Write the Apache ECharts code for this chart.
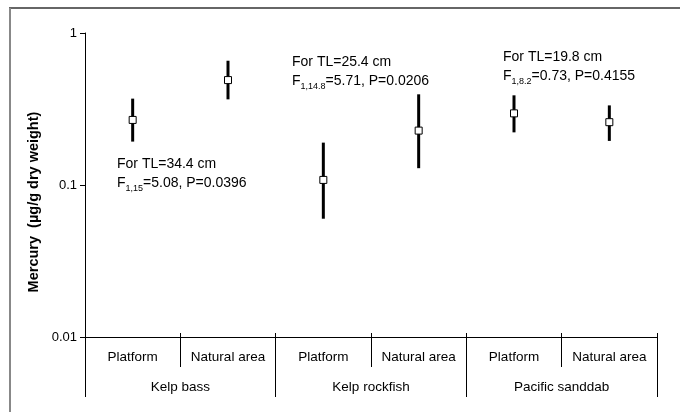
<!DOCTYPE html>
<html>
<head>
<meta charset="utf-8">
<script src="https://cdn.jsdelivr.net/npm/echarts@6/dist/echarts.min.js"></script>
<style>
  html, body { margin: 0; padding: 0; background: #fff; }
  #chart { width: 680px; height: 412px; }
</style>
</head>
<body>
<div id="chart"></div>
<script>
// sites within each species, and the species groups
var sites = ['Platform', 'Natural area', 'Platform', 'Natural area', 'Platform', 'Natural area'];
var species = ['Kelp bass', 'Kelp rockfish', 'Pacific sanddab'];

// adjusted mean mercury (ug/g dry weight) with the lower and upper bar ends
var means = [0.268, 0.49, 0.108, 0.228, 0.296, 0.259];
var lows = [0.193, 0.366, 0.060, 0.129, 0.222, 0.195];
var highs = [0.37, 0.657, 0.19, 0.395, 0.389, 0.334];

// ANCOVA notes per species
var noteTL = ['For TL=34.4 cm', 'For TL=25.4 cm', 'For TL=19.8 cm'];
var noteDf = ['1,15', '1,14.8', '1,8.2'];
var noteStat = ['=5.08, P=0.0396', '=5.71, P=0.0206', '=0.73, P=0.4155'];

var font = 'Arial, "Liberation Sans", sans-serif';
var chart = echarts.init(document.getElementById('chart'));

// where each note sits on the page
var notePos = [[117, 164], [292, 62], [503, 57]];

function buildNotes() {
    var out = [];
    notePos.forEach(function (p, i) {
        out.push({
            type: 'text',
            style: {
                x: p[0], y: p[1], text: noteTL[i],
                font: '14px ' + font, fill: '#000',
                verticalAlign: 'middle'
            }
        });
        out.push({
            type: 'text',
            style: {
                x: p[0], y: p[1] + 17,
                text: '{n|F}{s|' + noteDf[i] + '}{n|' + noteStat[i] + '}',
                verticalAlign: 'middle',
                rich: {
                    n: { fontSize: 14, fontFamily: font, color: '#000', lineHeight: 18, verticalAlign: 'bottom' },
                    s: { fontSize: 9, fontFamily: font, color: '#000', lineHeight: 14, verticalAlign: 'bottom', padding: [0, 0, -3, 0] }
                }
            }
        });
    });
    return out;
}

var graphics = [
    { type: 'line', shape: { x1: 9, y1: 8, x2: 680, y2: 8 }, style: { stroke: '#333', lineWidth: 1.5 } },
    { type: 'line', shape: { x1: 10, y1: 8, x2: 10, y2: 412 }, style: { stroke: '#888', lineWidth: 2 } },
    {
        type: 'text', x: 34, y: 202, rotation: Math.PI / 2,
        style: {
            text: 'Mercury  (\u00b5g/g dry weight)', font: 'bold 14.5px ' + font,
            fill: '#000', align: 'center', verticalAlign: 'middle'
        }
    }
].concat(buildNotes());

var options = {
    animation: false,
    textStyle: { fontFamily: font },
    grid: { left: 85, right: 23, top: 33, bottom: 75, containLabel: false },
    xAxis: [{
        type: 'category',
        data: sites,
        position: 'bottom',
        axisLine: { lineStyle: { color: '#000', width: 1 } },
        axisTick: { show: true, length: 30, interval: 0, lineStyle: { color: '#000' } },
        axisLabel: { interval: 0, margin: 13, fontSize: 13.5, color: '#000' },
        splitLine: { show: false }
    }, {
        type: 'category',
        data: species,
        position: 'bottom',
        axisLine: { show: false },
        axisTick: { show: true, length: 60, interval: 0, lineStyle: { color: '#000' } },
        axisLabel: { interval: 0, margin: 43, fontSize: 13.5, color: '#000' },
        splitLine: { show: false }
    }, {
        type: 'category',
        data: sites,
        position: 'bottom',
        axisLine: { show: false },
        axisTick: { show: true, inside: true, length: 4, interval: 0, lineStyle: { color: '#000' } },
        axisLabel: { show: false },
        splitLine: { show: false }
    }],
    yAxis: {
        type: 'log',
        logBase: 10,
        min: 0.01,
        max: 1,
        axisLine: { show: true, lineStyle: { color: '#000', width: 1 } },
        axisTick: { show: true, length: 5, lineStyle: { color: '#000' } },
        axisLabel: { fontSize: 13, margin: 8, color: '#000' },
        splitLine: { show: false },
        minorTick: { show: false }
    },
    series: [{
        type: 'custom',
        xAxisIndex: 0,
        renderItem: function (params, api) {
            var lo = api.coord([api.value(0), api.value(1)]);
            var hi = api.coord([api.value(0), api.value(2)]);
            return {
                type: 'line',
                shape: { x1: lo[0], y1: lo[1], x2: hi[0], y2: hi[1] },
                style: { stroke: '#000', lineWidth: 3 }
            };
        },
        data: sites.map(function (s, i) { return [i, lows[i], highs[i]]; }),
        z: 2
    }, {
        type: 'scatter',
        xAxisIndex: 0,
        symbol: 'rect',
        symbolSize: 7,
        itemStyle: { color: '#fff', borderColor: '#000', borderWidth: 1, opacity: 1 },
        data: means.map(function (v, i) { return [i, v]; }),
        z: 3
    }],
    graphic: graphics
};

chart.setOption(options);
</script>
</body>
</html>
